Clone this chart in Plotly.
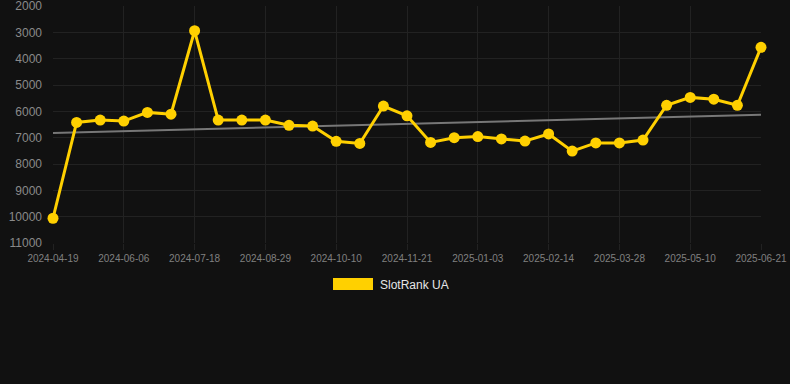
import plotly.graph_objects as go

dates = [
    "2024-04-19", "2024-05-09", "2024-05-23", "2024-06-06", "2024-06-20", "2024-07-04",
    "2024-07-18", "2024-08-01", "2024-08-15", "2024-08-29", "2024-09-12", "2024-09-26",
    "2024-10-10", "2024-10-24", "2024-11-07", "2024-11-21", "2024-12-05", "2024-12-19",
    "2025-01-03", "2025-01-17", "2025-01-31", "2025-02-14", "2025-02-28", "2025-03-14",
    "2025-03-28", "2025-04-11", "2025-04-25", "2025-05-10", "2025-05-24", "2025-06-07",
    "2025-06-21",
]
rank = [
    10060, 6420, 6330, 6370, 6040, 6110, 2940, 6330, 6330, 6330, 6530, 6560,
    7140, 7220, 5800, 6170, 7180, 7000, 6960, 7050, 7130, 6860, 7510, 7200,
    7200, 7090, 5770, 5470, 5540, 5770, 3570,
]
trend_x = [dates[0], dates[-1]]
trend_y = [6820, 6130]
tick_labels = dates[::3]
y_ticks = [2000, 3000, 4000, 5000, 6000, 7000, 8000, 9000, 10000, 11000]
series_name = "SlotRank UA"

YELLOW = "#FFD000"
BG = "#111111"
GRID = "#222222"

fig = go.Figure()
fig.add_trace(go.Scatter(
    x=trend_x, y=trend_y, mode="lines",
    line=dict(color="#777777", width=2),
    showlegend=False, hoverinfo="skip",
))
fig.add_trace(go.Scatter(
    x=dates, y=rank, mode="lines+markers", name=series_name,
    line=dict(color=YELLOW, width=3),
    marker=dict(color=YELLOW, size=11),
    showlegend=False, cliponaxis=False,
))

L, R, T, B = 53, 29, 6, 141
W, H = 790, 384
pw = W - L - R
ph = H - T - B

def px(x):
    return (x - L) / pw

def py(y):
    return (H - B - y) / ph

fig.add_shape(type="rect", xref="paper", yref="paper",
              x0=px(333), x1=px(373), y0=py(290), y1=py(278),
              fillcolor=YELLOW, line=dict(width=0))
fig.add_annotation(text=series_name, xref="paper", yref="paper",
                   x=px(378), y=py(284.5), xanchor="left", yanchor="middle",
                   showarrow=False,
                   font=dict(family="Arial, Liberation Sans, sans-serif", size=12, color="#e6e6e6"))

fig.update_layout(
    width=W, height=H,
    margin=dict(l=L, r=R, t=T, b=B, pad=0, autoexpand=False),
    paper_bgcolor=BG, plot_bgcolor=BG,
    showlegend=False,
    font=dict(family="Arial, Liberation Sans, sans-serif"),
)
fig.update_xaxes(
    type="category", categoryorder="array", categoryarray=dates,
    range=[0, len(dates) - 1],
    tickvals=tick_labels, ticktext=tick_labels,
    showgrid=True, gridcolor=GRID, gridwidth=1,
    ticks="outside", ticklen=6, tickcolor=GRID,
    tickfont=dict(size=10, color="#808080"),
    ticklabeloverflow="allow", automargin=False,
    zeroline=False, showline=False,
)
fig.update_yaxes(
    range=[11000.5, 1999.5],
    tickvals=y_ticks, ticktext=[str(v) for v in y_ticks],
    showgrid=True, gridcolor=GRID, gridwidth=1,
    tickfont=dict(size=12, color="#8a8a8a"),
    ticks="", ticklabelstandoff=10,
    ticklabeloverflow="allow", automargin=False,
    zeroline=False, showline=False,
)

fig.write_html(
    "out.html",
    config={"displayModeBar": False},
    post_script="document.body.style.margin='0';document.body.style.background='#111111';",
)
